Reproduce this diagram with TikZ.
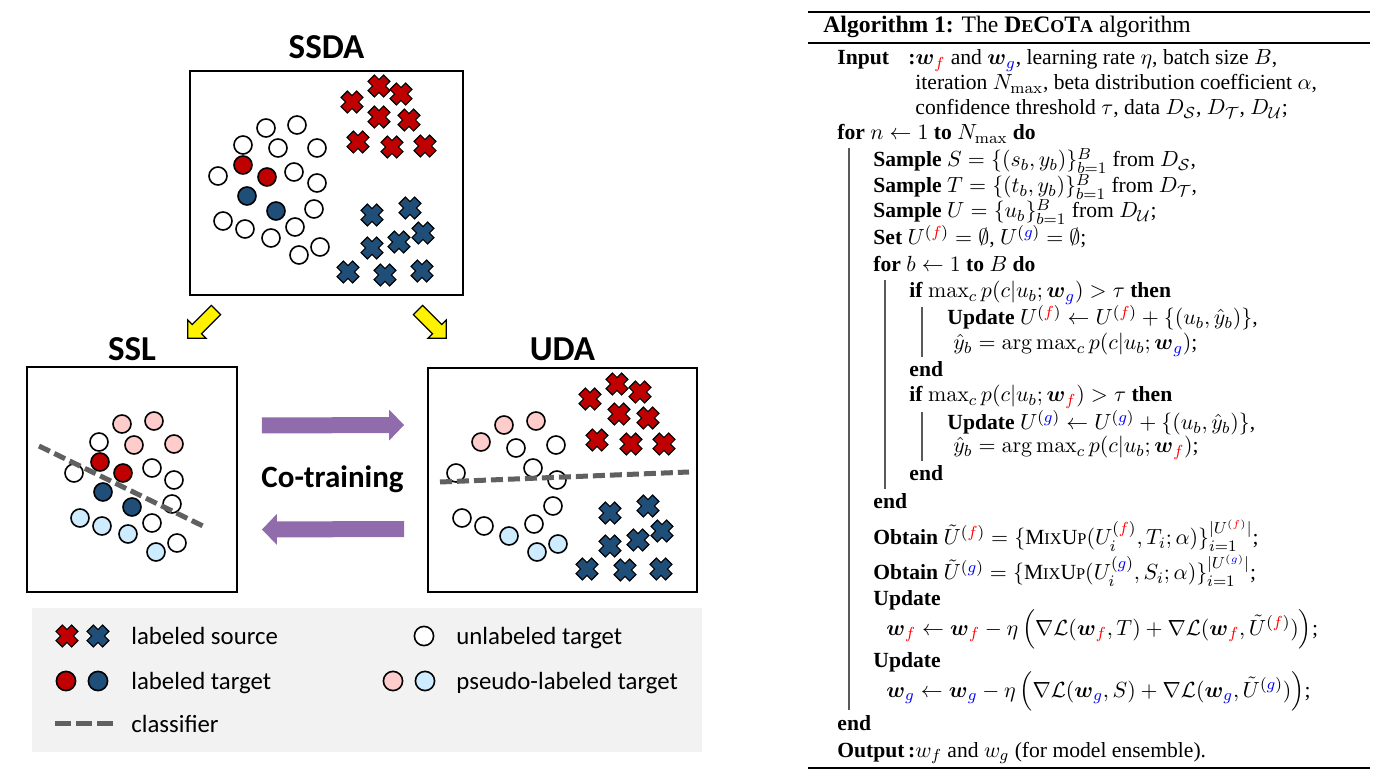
\documentclass[tikz,border=0pt]{standalone}
\usepackage{amsmath}
\usepackage[no-math]{fontspec}
\setmainfont{Liberation Serif}
\newfontfamily\diagfont{Carlito}
\usetikzlibrary{positioning, arrows.meta, shapes, calc}
\definecolor{srcred}{RGB}{192,0,0}
\definecolor{srcblue}{RGB}{31,78,121}
\definecolor{pinkdot}{RGB}{255,204,204}
\definecolor{lbluedot}{RGB}{206,236,255}
\definecolor{clsgray}{RGB}{96,96,96}
\definecolor{copurple}{RGB}{145,108,172}
\definecolor{legendbg}{RGB}{242,242,242}
\newcommand{\fsc}[2][8.2pt]{{\fontsize{#1}{10pt}\selectfont #2}}
\newcommand{\wf}{\boldsymbol{w}_{\textcolor{red}{f}}}
\newcommand{\wg}{\boldsymbol{w}_{\textcolor{blue}{g}}}
\newcommand{\cf}{\textcolor{red}{f}}
\newcommand{\cg}{\textcolor{blue}{g}}
\tikzset{
  pics/xmark/.style={code={
    \filldraw[fill=#1, line width=0.6pt, rotate=45]
      (2.25pt,2.25pt) -- (5.5pt,2.25pt) -- (5.5pt,-2.25pt) -- (2.25pt,-2.25pt)
      -- (2.25pt,-5.5pt) -- (-2.25pt,-5.5pt) -- (-2.25pt,-2.25pt) -- (-5.5pt,-2.25pt)
      -- (-5.5pt,2.25pt) -- (-2.25pt,2.25pt) -- (-2.25pt,5.5pt) -- (2.25pt,5.5pt) -- cycle;
  }},
  pics/yarrow/.style={code={
    \filldraw[fill=yellow, line width=0.6pt]
      (0pt,3.25pt) -- (13.5pt,3.25pt) -- (13.5pt,6.5pt) -- (20pt,0pt)
      -- (13.5pt,-6.5pt) -- (13.5pt,-3.25pt) -- (0pt,-3.25pt) -- cycle;
  }}
}

\begin{document}
\begin{tikzpicture}[x=0.5pt, y=-0.5pt,
  panel/.style={draw, line width=0.9pt, inner sep=0pt},
  title/.style={font=\diagfont\bfseries\fontsize{17.5}{20}\selectfont, inner sep=0pt},
  dot/.style={draw, line width=0.8pt},
  udot/.style={dot, fill=white},
  rdot/.style={dot, fill=srcred},
  bdot/.style={dot, fill=srcblue},
  pdot/.style={dot, fill=pinkdot},
  ldot/.style={dot, fill=lbluedot},
  clsline/.style={draw=clsgray, line width=2.5pt, dash pattern=on 6pt off 2.5pt},
  coarrow/.style={draw=copurple, line width=8pt, -{Triangle[width=15pt, length=7.5pt]}},
  legtext/.style={anchor=base west, inner sep=0pt, font=\diagfont\fontsize{12.4}{14}\selectfont},
  alg/.style={anchor=base west, inner sep=0pt, font=\fontsize{10.8}{13}\selectfont},
  algbar/.style={draw=black!65, line width=0.6pt}
]
\useasboundingbox (0,0) rectangle (1380,779);

% panels
\node[panel, minimum width=136.5pt, minimum height=112pt] (ssda) at (326.5,183) {};
\node[panel, minimum width=105pt, minimum height=112.5pt] (ssl) at (132,479.5) {};
\node[panel, minimum width=134.5pt, minimum height=112pt] (uda) at (562.5,480) {};
\node[title, above=5.5pt of ssda] (tssda) {SSDA};
\node[title, above=2.5pt of ssl] (tssl) {SSL};
\node[title, above=3pt of uda] (tuda) {UDA};

% SSDA points
\foreach \p in {(266,128),(297,125),(243,145),(278,148),(317,148),(218,176),(294,172),(317,183),
  (314,209),(223,221),(245,229),(271,238),(295,227),(299,255),(320,247)}
  \draw[udot] \p circle[radius=4.5pt];
\foreach \p in {(243,165),(267,177)} \draw[rdot] \p circle[radius=4.5pt];
\foreach \p in {(247,196),(276,211)} \draw[bdot] \p circle[radius=4.5pt];
\foreach \p in {(352,102),(379,86),(401,94),(379,117),(409,120),(358,142),(392,147),(425,146)}
  \pic at \p {xmark=srcred};
\foreach \p in {(372,215),(410,208),(423,233),(372,248),(399,242),(348,272),(385,275),(422,271)}
  \pic at \p {xmark=srcblue};

% SSL points
\foreach \p in {(122,424),(154,421),(134,445),(174,444)} \draw[pdot] \p circle[radius=4.5pt];
\foreach \p in {(99,442),(74,473),(152,468),(174,480),(172,504),(152,523),(177,543)}
  \draw[udot] \p circle[radius=4.5pt];
\foreach \p in {(100,462),(123,473)} \draw[rdot] \p circle[radius=4.5pt];
\foreach \p in {(103,492),(132,507)} \draw[bdot] \p circle[radius=4.5pt];
\foreach \p in {(80,518),(102,526),(128,534),(156,552)} \draw[ldot] \p circle[radius=4.5pt];
\draw[clsline] (39,446) -- (205,527);

% UDA points
\foreach \p in {(481,442),(504,425),(536,421)} \draw[pdot] \p circle[radius=4.5pt];
\foreach \p in {(516,448),(556,445),(456,473),(533,468),(557,480),(553,506),(462,518),(484,526),(534,524)}
  \draw[udot] \p circle[radius=4.5pt];
\foreach \p in {(509,536),(537,552),(558,544)} \draw[ldot] \p circle[radius=4.5pt];
\foreach \p in {(590,399),(617,384),(640,392),(619,414),(648,418),(597,440),(631,444),(664,444)}
  \pic at \p {xmark=srcred};
\foreach \p in {(610,513),(648,506),(662,531),(610,546),(638,540),(587,569),(625,570),(661,569)}
  \pic at \p {xmark=srcblue};
\draw[clsline] (440,482) -- (689,472);

% arrows between panels
\pic[rotate=225] (ya1) at (216,310) {yarrow};
\pic[rotate=-45] (ya2) at (418,310) {yarrow};
\draw[coarrow] ($(ssl.east)+(24,-54)$) -- ($(uda.west)+(-23,-55)$);
\draw[coarrow] ($(uda.west)+(-23,49)$) -- ($(ssl.east)+(24,50)$);
\node[font=\diagfont\bfseries\fontsize{15.5}{18}\selectfont, inner sep=0pt] (cot)
  at ($(ssl.east)!0.5!(uda.west)$) {Co-training};

% legend
\fill[legendbg] (32,608) rectangle (702,752);
\pic at (67,636) {xmark=srcred};
\pic at (98,636) {xmark=srcblue};
\draw[rdot] (66,681) circle[radius=4.8pt];
\draw[bdot] (98,681) circle[radius=4.8pt];
\draw[draw=clsgray, line width=2.5pt, dash pattern=on 8pt off 2.5pt] (55,723) -- (113,723);
\draw[udot] (424,636) circle[radius=4.8pt];
\draw[pdot] (393,681) circle[radius=4.8pt];
\draw[ldot] (425,681) circle[radius=4.8pt];
\node[legtext] (lsrc) at (131,645) {labeled source};
\node[legtext] (ltgt) at (131,689) {labeled target};
\node[legtext] (lcls) at (131,732) {classifier};
\node[legtext] (lunl) at (456,645) {unlabeled target};
\node[legtext] (lpsd) at (456,689) {pseudo-labeled target};

% algorithm
\draw[line width=1pt] (808,12) -- (1370,12);
\draw[line width=0.7pt] (808,43) -- (1370,43);
\draw[line width=1pt] (808,768) -- (1370,768);
\node[alg, font=\fontsize{11.8}{13}\selectfont] (atitle) at (823,33)
  {\textbf{Algorithm 1:} The \textbf{D\fsc[9pt]{E}C\fsc[9pt]{O}T\fsc[9pt]{A}} algorithm};
\node[alg] (kin) at (837,65) {\textbf{Input}};
\node[alg] (in1) at (908,65) {\textbf{:}$\wf$ and $\wg$, learning rate $\eta$, batch size $B$,};
\node[alg] (in2) at (915,90) {iteration $N_{\max}$, beta distribution coefficient $\alpha$,};
\node[alg] (in3) at (915,115) {confidence threshold $\tau$, data $D_{\mathcal{S}}$, $D_{\mathcal{T}}$, $D_{\mathcal{U}}$;};
\node[alg] (forn) at (837,140) {\textbf{for} $n \leftarrow 1$ \textbf{to} $N_{\max}$ \textbf{do}};
\node[alg] (sms) at (873,167) {\textbf{Sample} $S=\{(s_b,y_b)\}_{b=1}^{B}$ from $D_{\mathcal{S}}$,};
\node[alg] (smt) at (873,193) {\textbf{Sample} $T=\{(t_b,y_b)\}_{b=1}^{B}$ from $D_{\mathcal{T}}$,};
\node[alg] (smu) at (873,218) {\textbf{Sample} $U=\{u_b\}_{b=1}^{B}$ from $D_{\mathcal{U}}$;};
\node[alg] (sets) at (873,245) {\textbf{Set} $U^{(\cf)}=\emptyset$, $U^{(\cg)}=\emptyset$;};
\node[alg] (forb) at (873,272) {\textbf{for} $b \leftarrow 1$ \textbf{to} $B$ \textbf{do}};
\node[alg] (ifa) at (909,298) {\textbf{if} $\max_c p(c|u_b;\wg) > \tau$ \textbf{then}};
\node[alg] (upa) at (947,325) {\textbf{Update} $U^{(\cf)} \leftarrow U^{(\cf)} + \{(u_b,\hat{y}_b)\}$,};
\node[alg] (yha) at (953,350) {$\hat{y}_b = \arg\max_c p(c|u_b;\wg)$;};
\node[alg] (enda) at (909,377) {\textbf{end}};
\node[alg] (ifb) at (909,402) {\textbf{if} $\max_c p(c|u_b;\wf) > \tau$ \textbf{then}};
\node[alg] (upb) at (947,430) {\textbf{Update} $U^{(\cg)} \leftarrow U^{(\cg)} + \{(u_b,\hat{y}_b)\}$,};
\node[alg] (yhb) at (953,453) {$\hat{y}_b = \arg\max_c p(c|u_b;\wf)$;};
\node[alg] (endc) at (909,481) {\textbf{end}};
\node[alg] (endb) at (873,509) {\textbf{end}};
\node[alg] (obf) at (873,545) {\textbf{Obtain} $\tilde{U}^{(\cf)} = \{\mbox{M\fsc{IX}U\fsc{P}}(U_i^{(\cf)},T_i;\alpha)\}_{i=1}^{|U^{(\cf)}|}$;};
\node[alg] (obg) at (873,580) {\textbf{Obtain} $\tilde{U}^{(\cg)} = \{\mbox{M\fsc{IX}U\fsc{P}}(U_i^{(\cg)},S_i;\alpha)\}_{i=1}^{|U^{(\cg)}|}$;};
\node[alg] (upf) at (873,605) {\textbf{Update}};
\node[alg] (wfl) at (886,635) {$\wf \leftarrow \wf - \eta\,\Big(\nabla\mathcal{L}(\wf,T)+\nabla\mathcal{L}(\wf,\tilde{U}^{(\cf)})\Big)$;};
\node[alg] (upg) at (873,667) {\textbf{Update}};
\node[alg] (wgl) at (886,697) {$\wg \leftarrow \wg - \eta\,\Big(\nabla\mathcal{L}(\wg,S)+\nabla\mathcal{L}(\wg,\tilde{U}^{(\cg)})\Big)$;};
\node[alg] (endn) at (837,730) {\textbf{end}};
\node[alg] (kout) at (837,757) {\textbf{Output\,:}$w_f$ and $w_g$ (for model ensemble).};
\draw[algbar] ($(forn.base west)+(12,8)$) -- ($(endn.base west)+(12,-20)$);
\draw[algbar] ($(forb.base west)+(12,8)$) -- ($(endb.base west)+(12,-20)$);
\draw[algbar] ($(ifa.base west)+(13,9)$) -- ($(enda.base west)+(13,-20)$);
\draw[algbar] ($(ifb.base west)+(13,10)$) -- ($(endc.base west)+(13,-20)$);
\end{tikzpicture}
\end{document}
